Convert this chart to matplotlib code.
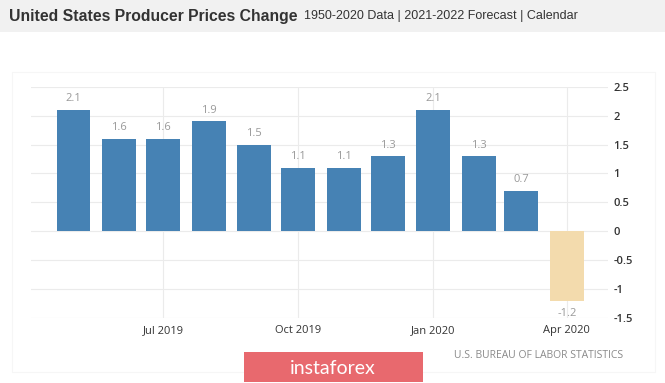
import matplotlib
matplotlib.use('Agg')
import matplotlib.pyplot as plt
import matplotlib.dates as mdates
import numpy as np
import pandas as pd

# Datos del grafico
meses = ['2019-05', '2019-06', '2019-07', '2019-08', '2019-09', '2019-10',
         '2019-11', '2019-12', '2020-01', '2020-02', '2020-03', '2020-04']
valores = [2.1, 1.6, 1.6, 1.9, 1.5, 1.1, 1.1, 1.3, 2.1, 1.3, 0.7, -1.2]
etiquetas_x = ['Jul 2019', 'Oct 2019', 'Jan 2020', 'Apr 2020']
fechas_x = ['2019-07-01', '2019-10-01', '2020-01-01', '2020-04-01']
ticks_y = [-1.5, -1, -0.5, 0, 0.5, 1, 1.5, 2, 2.5]

fechas = pd.to_datetime(meses)
colores = ['#4682b4'] * (len(valores) - 1) + ['#f3dbad']

W, H = 665, 383
fig = plt.figure(figsize=(W / 100, H / 100), dpi=100)
fig.patch.set_facecolor('white')

# Banda gris del encabezado
fig.patches.append(plt.Rectangle((0, 1 - 32 / H), 1, 32 / H, transform=fig.transFigure,
                                 facecolor='#f1f1f1', edgecolor='none', zorder=0))
# Marco tenue del panel
fig.patches.append(plt.Rectangle((12 / W, 1 - 372 / H), 643 / W, 300 / H, transform=fig.transFigure,
                                 facecolor='none', edgecolor='#f6f6f6', linewidth=0.8, zorder=0))

fig.text(9 / W, 1 - 16 / H, 'United States Producer Prices Change', fontsize=11.3,
         fontweight='bold', color='#333333', family='Liberation Sans', va='center', ha='left')
fig.text(304 / W, 1 - 16 / H, '1950-2020 Data | 2021-2022 Forecast | Calendar', fontsize=9,
         color='#333333', family='Liberation Sans', va='center', ha='left')

# Ejes
ax = fig.add_axes([31 / W, 1 - 318 / H, (608 - 31) / W, (318 - 86.7) / H])
ax.set_facecolor('none')

ax.bar(mdates.date2num(fechas), valores, width=23, color=colores, zorder=2)

for f, v in zip(fechas, valores):
    off = 0.19 if v >= 0 else -0.23
    ax.text(mdates.date2num(f), v + off, '{:g}'.format(v), ha='center', va='center',
            fontsize=8, color='#999999', family='Open Sans')

ax.set_xlim(mdates.date2num(pd.Timestamp('2019-04-02')), mdates.date2num(pd.Timestamp('2020-04-29')))
ax.set_ylim(-1.5, 2.5)

ax.set_xticks(mdates.date2num(pd.to_datetime(fechas_x)))
ax.set_xticklabels(etiquetas_x, fontsize=8, color='#333333', family='Open Sans')
ax.set_yticks(ticks_y)
ax.set_yticklabels(['{:g}'.format(t) for t in ticks_y], fontsize=8, color='#333333',
                   family='Open Sans', fontweight='semibold')
ax.yaxis.tick_right()
ax.tick_params(axis='both', length=0)
ax.tick_params(axis='x', pad=5)
ax.tick_params(axis='y', pad=4)

ax.grid(True, color='#ebebeb', linewidth=0.8, zorder=0)
ax.set_axisbelow(True)
for s in ax.spines.values():
    s.set_visible(False)

# Fuente y logo
fig.text(623 / W, 1 - 356 / H, 'U.S. BUREAU OF LABOR STATISTICS', fontsize=7.5, color='#8a8a8a',
         family='Open Sans', ha='right', va='center')
fig.patches.append(plt.Rectangle((244 / W, 1 - 382 / H), 179 / W, 30 / H, transform=fig.transFigure,
                                 facecolor='#e8696e', edgecolor='none', zorder=3))
fig.text(333 / W, 1 - 368 / H, 'instaforex', fontsize=14, color='white', family='Lato',
         ha='center', va='center', zorder=4)

plt.savefig('out.png', dpi=100)
plt.close()
